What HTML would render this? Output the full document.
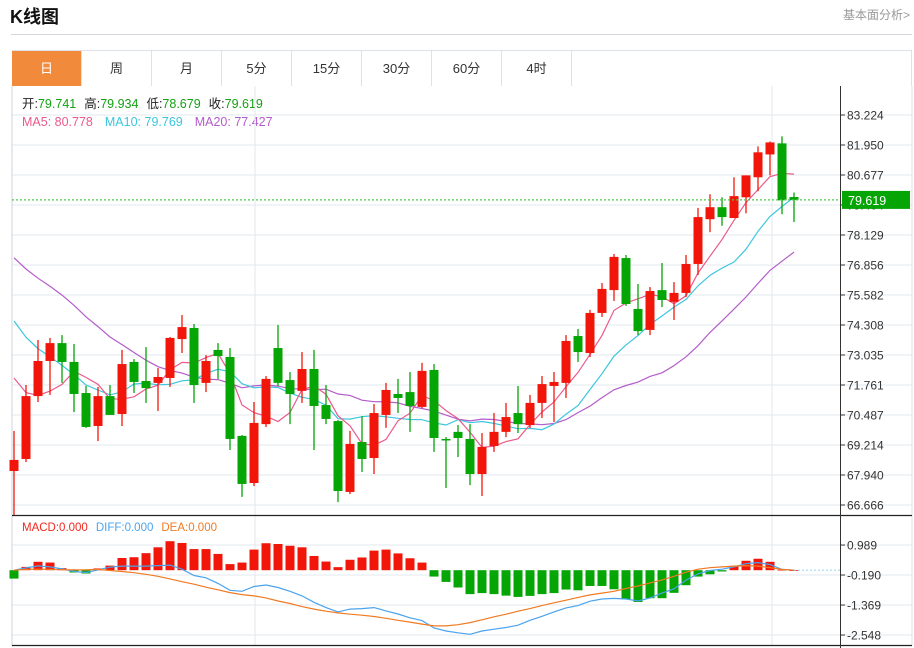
<!DOCTYPE html>
<html><head><meta charset="utf-8">
<style>
body{margin:0;background:#fff;width:914px;height:648px;overflow:hidden;font-family:"Liberation Sans","Noto Sans CJK SC",sans-serif;position:relative}
.t{position:absolute;white-space:nowrap}
.tab{position:absolute;top:51px;height:35px;width:70px;line-height:35px;text-align:center;font-size:13px;color:#333;border-right:1px solid #dde2e8;box-sizing:border-box}
</style></head><body>
<div class="t" style="left:10px;top:3px;font-size:18px;font-weight:bold;color:#111">K线图</div>
<div class="t" style="left:843px;top:6px;font-size:12px;color:#999">基本面分析&gt;</div>
<div style="position:absolute;left:11px;top:34px;width:901px;height:1px;background:#d4d7db"></div>
<div style="position:absolute;left:12px;top:50px;width:900px;height:36px;border:1px solid #dde2e8;border-bottom:none;box-sizing:border-box"></div>
<div class="tab" style="left:12px;background:#f28a3c;color:#fff">日</div>
<div class="tab" style="left:82px">周</div>
<div class="tab" style="left:152px">月</div>
<div class="tab" style="left:222px">5分</div>
<div class="tab" style="left:292px">15分</div>
<div class="tab" style="left:362px">30分</div>
<div class="tab" style="left:432px">60分</div>
<div class="tab" style="left:502px">4时</div>

<svg id="chart" width="914" height="648" style="position:absolute;left:0;top:0" xmlns="http://www.w3.org/2000/svg">
<text x="22" y="108" font-size="12.5"><tspan fill="#222">开:</tspan><tspan fill="#13a113">79.741</tspan><tspan fill="#222" dx="8">高:</tspan><tspan fill="#13a113">79.934</tspan><tspan fill="#222" dx="8">低:</tspan><tspan fill="#13a113">78.679</tspan><tspan fill="#222" dx="8">收:</tspan><tspan fill="#13a113">79.619</tspan></text>
<text x="22" y="126" font-size="12.5"><tspan fill="#ea5a8c">MA5: 80.778</tspan><tspan fill="#3cc6de" dx="12">MA10: 79.769</tspan><tspan fill="#b45ccb" dx="12">MA20: 77.427</tspan></text>
<text x="22" y="531" font-size="11.5"><tspan fill="#f0281e">MACD:0.000</tspan><tspan fill="#4aa3ee" dx="8">DIFF:0.000</tspan><tspan fill="#f07a22" dx="8">DEA:0.000</tspan></text>
</svg>
<script>
const opens=[68.11,68.62,71.29,72.78,73.54,72.74,71.42,70.02,71.29,70.53,72.74,71.93,71.85,72.06,73.71,74.18,71.85,73.25,72.95,69.60,67.60,70.10,73.33,71.97,71.51,72.44,70.91,70.23,67.22,69.34,68.66,70.49,71.38,71.46,70.83,72.40,69.47,69.77,69.47,67.98,69.17,69.77,70.57,70.06,71.00,71.72,71.85,73.84,73.12,74.82,75.79,77.15,74.99,74.10,75.79,75.29,75.67,76.90,78.80,79.31,78.85,79.73,80.58,81.55,82.02,79.741];
const highs=[69.81,71.76,73.67,73.76,73.88,73.50,71.72,71.68,71.76,73.25,72.86,73.37,72.48,73.80,74.73,74.35,73.03,73.54,73.33,69.64,71.04,72.14,74.31,72.31,73.16,73.25,71.76,70.27,69.81,70.44,70.95,71.85,72.02,72.31,72.70,72.65,69.55,70.06,70.10,69.72,70.57,71.00,71.72,71.34,72.14,72.31,73.88,74.14,74.95,76.09,77.32,77.28,76.05,75.92,76.94,76.13,77.28,79.28,79.86,79.73,80.58,80.66,81.89,82.10,82.32,79.934];
const lows=[66.24,68.49,71.04,71.34,71.85,70.61,69.94,69.38,70.49,70.02,71.42,71.00,70.66,71.68,73.12,71.00,71.46,72.02,69.00,67.01,67.47,69.98,71.72,70.10,71.00,69.00,70.10,66.79,67.13,68.07,67.98,69.94,70.57,69.77,70.78,68.92,67.39,68.70,67.51,67.05,68.92,69.55,69.72,69.94,70.36,70.19,71.21,72.74,72.95,74.65,75.33,75.12,73.88,73.88,75.07,74.52,75.50,76.43,78.25,78.52,78.85,79.05,79.99,80.66,79.01,78.679];
const closes=[68.58,71.29,72.78,73.54,72.74,71.38,69.98,71.29,70.49,72.65,71.89,71.63,72.10,73.76,74.22,71.76,72.78,72.99,69.47,67.56,70.15,72.02,71.85,71.38,72.44,70.87,70.32,67.26,69.26,68.62,70.57,71.55,71.21,70.87,72.36,69.51,69.43,69.51,67.98,69.13,69.77,70.40,70.10,71.00,71.80,71.89,73.63,73.16,74.82,75.84,77.20,75.20,74.05,75.75,75.37,75.67,76.90,78.89,79.31,78.89,79.78,80.66,81.64,82.06,79.60,79.619];
const priorCloses=[80.8,80.6,80.4,80.2,80.0,79.8,79.6,79.3,79.1,78.6,78.2,77.6,77.0,76.4,75.3,74.4,73.4,72.6,71.32];
const priceTicks=[83.224,81.950,80.677,79.404,78.129,76.856,75.582,74.308,73.035,71.761,70.487,69.214,67.940,66.666];
const lastPrice=79.619;
const macdHist=[-0.33,0.13,0.33,0.30,0.08,-0.09,-0.13,0.07,0.18,0.48,0.51,0.67,0.90,1.14,1.07,0.83,0.83,0.64,0.24,0.30,0.81,1.06,1.03,0.96,0.90,0.56,0.34,0.12,0.41,0.50,0.77,0.81,0.66,0.47,0.30,-0.25,-0.46,-0.68,-0.94,-0.90,-0.94,-1.00,-1.05,-1.01,-0.94,-0.90,-0.76,-0.79,-0.62,-0.62,-0.75,-1.15,-1.25,-1.10,-1.10,-0.89,-0.59,-0.25,-0.16,-0.05,0.17,0.37,0.45,0.33,0.02,0];
const diffVals=[0,0.09,0.17,0.13,0.05,-0.05,-0.09,0.01,0.12,0.16,0.16,0.16,0.18,0.20,0.04,-0.21,-0.30,-0.52,-0.79,-0.83,-0.64,-0.58,-0.68,-0.83,-1.01,-1.26,-1.47,-1.64,-1.53,-1.51,-1.47,-1.60,-1.72,-1.87,-1.98,-2.27,-2.39,-2.46,-2.52,-2.39,-2.32,-2.25,-2.16,-1.97,-1.81,-1.64,-1.48,-1.39,-1.22,-1.13,-1.11,-1.13,-1.21,-1.09,-0.90,-0.73,-0.39,-0.14,-0.01,0.04,0.13,0.26,0.30,0.22,0.03,0];
const deaVals=[0,0.03,0.04,0.03,0.02,0.01,0.01,0.03,-0.01,-0.05,-0.10,-0.16,-0.24,-0.34,-0.45,-0.55,-0.67,-0.77,-0.88,-0.96,-1.01,-1.09,-1.21,-1.31,-1.43,-1.53,-1.61,-1.68,-1.73,-1.77,-1.82,-1.89,-1.97,-2.04,-2.12,-2.19,-2.19,-2.14,-2.06,-1.95,-1.83,-1.73,-1.61,-1.51,-1.39,-1.28,-1.18,-1.07,-0.97,-0.90,-0.83,-0.72,-0.62,-0.50,-0.38,-0.24,-0.08,0.04,0.10,0.13,0.16,0.18,0.16,0.10,0.03,0];
const macdTicks=[0.989,-0.190,-1.369,-2.548];

const svg=document.getElementById('chart');
const NS='http://www.w3.org/2000/svg';
function mk(tag,attrs,parent){const e=document.createElementNS(NS,tag);for(const k in attrs)e.setAttribute(k,attrs[k]);(parent||svg).appendChild(e);return e;}
const xOf=i=>14+12*i;
const yP=p=>505-(p-66.666)*(390/(83.224-66.666));
const yM=v=>570.2-v*(30/1.179);

// frame & grid
const g=mk('g',{});


priceTicks.forEach(p=>{mk('line',{x1:12,x2:912,y1:yP(p),y2:yP(p),stroke:'#e3e9ef','stroke-width':1},g);});
macdTicks.forEach(v=>{mk('line',{x1:12,x2:912,y1:yM(v),y2:yM(v),stroke:'#e3e9ef','stroke-width':1},g);});
[255,772].forEach(x=>{mk('line',{x1:x,x2:x,y1:86,y2:645,stroke:'#e3e9ef','stroke-width':1},g);});
mk('line',{x1:12,x2:12,y1:86,y2:646,stroke:'#cfd4da'},g);
mk('line',{x1:912,x2:912,y1:86,y2:646,stroke:'#dde2e8'},g);
mk('line',{x1:12,x2:912,y1:515.5,y2:515.5,stroke:'#222','stroke-width':1.2},g);
mk('line',{x1:12,x2:912,y1:645.5,y2:645.5,stroke:'#222','stroke-width':1.2},g);
mk('line',{x1:840.5,x2:840.5,y1:86,y2:648,stroke:'#333','stroke-width':1},g);

// price axis labels
priceTicks.forEach(p=>{
  const y=yP(p);
  mk('line',{x1:840,x2:845,y1:y,y2:y,stroke:'#333'});
  const t=mk('text',{x:847,y:y+4.5,'font-size':12,fill:'#333'});
  
  
  t.textContent=p.toFixed(3);
});
macdTicks.forEach(v=>{
  const y=yM(v);
  mk('line',{x1:840,x2:845,y1:y,y2:y,stroke:'#333'});
  const t=mk('text',{x:847,y:y+4.5,'font-size':12,fill:'#333'});
  
  
  t.textContent=v.toFixed(3);
});

// MA lines
const all=priorCloses.concat(closes);
function ma(n){return closes.map((c,i)=>{const k=i+priorCloses.length;let s=0;for(let j=k-n+1;j<=k;j++)s+=all[j];return s/n;});}
[[20,'#b45ccb','ma20-line'],[10,'#3cc6de','ma10-line'],[5,'#ea5a8c','ma5-line']].forEach(([n,col,name])=>{
  const pts=ma(n).map((v,i)=>xOf(i)+','+yP(v).toFixed(1)).join(' ');
  const l=mk('polyline',{points:pts,fill:'none',stroke:col,'stroke-width':1.2});
  
  
});

// candles
closes.forEach((c,i)=>{
  const o=opens[i],up=c>=o,col=up?'#f2160a':'#05a505',x=xOf(i);
  const cg=mk('g',{});
  
  
  mk('line',{x1:x,x2:x,y1:yP(highs[i]),y2:yP(lows[i]),stroke:col,'stroke-width':1.3},cg);
  const top=yP(Math.max(o,c)),bot=yP(Math.min(o,c));
  mk('rect',{x:x-4.5,y:top,width:9,height:Math.max(1.5,bot-top),fill:col},cg);
});

// last price line & label
const ly=yP(lastPrice);
mk('line',{x1:12,x2:840,y1:ly,y2:ly,stroke:'#4cc94c','stroke-width':1.2,'stroke-dasharray':'2,2'});
const lb=mk('rect',{x:842,y:ly-9,width:68,height:18,fill:'#06a506'});


const lt=mk('text',{x:848,y:ly+5,'font-size':12.5,fill:'#fff'});


lt.textContent=lastPrice.toFixed(3);

// MACD histogram
const z=yM(0);
macdHist.forEach((v,i)=>{
  const y=yM(v);
  const r=mk('rect',{x:xOf(i)-4.5,y:Math.min(y,z),width:9,height:Math.max(0.8,Math.abs(y-z)),fill:v>=0?'#f2160a':'#05a505'});
  
  
});
const dl=mk('polyline',{points:diffVals.map((v,i)=>xOf(i)+','+yM(v).toFixed(1)).join(' '),fill:'none',stroke:'#4aa3ee','stroke-width':1.2});


const el=mk('polyline',{points:deaVals.map((v,i)=>xOf(i)+','+yM(v).toFixed(1)).join(' '),fill:'none',stroke:'#f07a22','stroke-width':1.2});


mk('line',{x1:xOf(65),x2:840,y1:z,y2:z,stroke:'#9fd8f0','stroke-width':1.2,'stroke-dasharray':'2,2'});
</script>
</body></html>
